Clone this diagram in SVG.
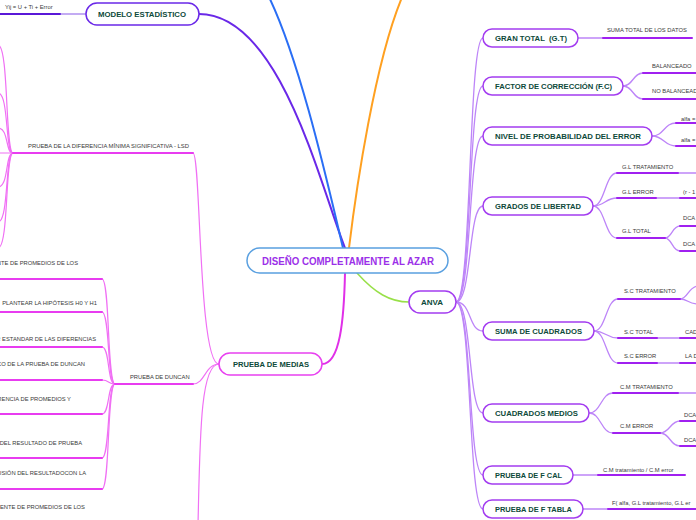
<svg xmlns="http://www.w3.org/2000/svg" width="696" height="520" viewBox="0 0 696 520">
<style>
.c{fill:none;stroke-linecap:round}
.pl{stroke:#bd85f8;stroke-width:1.3}
.pt{stroke:#a020f0;stroke-width:2}
.ml{stroke:#f070f4;stroke-width:1.2}
.mt{stroke:#e83cf0;stroke-width:2}
.n{fill:#fff;stroke:#a33cf0;stroke-width:1.5}
.nt{font-family:"Liberation Sans",Arial,sans-serif;font-weight:bold;font-size:8px;fill:#0d4a3a}
.s{font-family:"Liberation Sans",Arial,sans-serif;font-size:5.8px;fill:#3a3a3a}
.e{text-anchor:end}
</style>
<rect width="696" height="520" fill="#fff"/>
<g id="connectors">
<path class="c" d="M345,248 C320,185 280,14 199,14" stroke="#6a28e8" stroke-width="2"/>
<path class="c" d="M343,248 C328,185 300,60 268,-5" stroke="#2a6ef5" stroke-width="2"/>
<path class="c" d="M349,248 C356,190 375,60 403,-5" stroke="#ffa020" stroke-width="2"/>
<path class="c" d="M345,273 C344,320 340,364 322,364" stroke="#e030e8" stroke-width="2"/>
<path class="c" d="M357,273 C375,293 390,302 409,302" stroke="#98e048" stroke-width="1.5"/>
<path class="c" d="M86,14 L60,14" stroke="#b090f0" stroke-width="1.5"/>
<path class="c" d="M60,14 L-2,14" stroke="#5a18d8" stroke-width="2"/>
<g class="c pl">
<path d="M456,302 C472,302 468,38 483,38"/>
<path d="M456,302 C472,302 468,86 483,86"/>
<path d="M456,302 C472,302 468,136 483,136"/>
<path d="M456,302 C472,302 468,206 483,206"/>
<path d="M456,302 C472,302 468,331 483,331"/>
<path d="M456,302 C472,302 468,413 483,413"/>
<path d="M456,302 C472,302 468,475 483,475"/>
<path d="M456,302 C472,302 468,509 483,509"/>
<path d="M578,38 L603,38"/>
<path d="M623,86 C633,86 633,73 643,73"/>
<path d="M623,86 C633,86 633,99 643,99"/>
<path d="M652,136 C664,136 664,123 676,123"/>
<path d="M652,136 C664,136 664,146 676,146"/>
<path d="M593,206 C605,206 605,173 617,173"/>
<path d="M593,206 C605,206 605,198 617,198"/>
<path d="M593,206 C605,206 605,238 617,238"/>
<path d="M678,173 L698,173"/>
<path d="M656,198 L680,198"/>
<path d="M665,238 C672,238 672,226 680,226"/>
<path d="M665,238 C672,238 672,251 680,251"/>
<path d="M594,331 C606,331 606,299 618,299"/>
<path d="M594,331 C606,331 606,338 618,338"/>
<path d="M594,331 C606,331 606,363 618,363"/>
<path d="M680,299 C688,299 688,287 698,286"/>
<path d="M680,299 C688,299 688,304 698,304"/>
<path d="M657,338 L680,338"/>
<path d="M657,363 L680,363"/>
<path d="M589,413 C601,413 601,393 613,393"/>
<path d="M589,413 C601,413 601,433 613,433"/>
<path d="M678,393 L698,393"/>
<path d="M660,433 C670,433 670,421 680,421"/>
<path d="M660,433 C670,433 670,446 680,446"/>
<path d="M573,475 L598,475"/>
<path d="M583,509 L608,509"/>
</g>
<g class="c pt">
<path d="M603,38 L692,38"/>
<path d="M643,73 L698,73"/>
<path d="M643,99 L698,99"/>
<path d="M676,123 L698,123"/>
<path d="M676,146 L698,146"/>
<path d="M617,173 L678,173"/>
<path d="M617,198 L656,198"/>
<path d="M680,198 L698,198"/>
<path d="M617,238 L665,238"/>
<path d="M680,226 L698,226"/>
<path d="M680,251 L698,251"/>
<path d="M618,299 L680,299"/>
<path d="M618,338 L657,338"/>
<path d="M680,338 L698,338"/>
<path d="M618,363 L657,363"/>
<path d="M680,363 L698,363"/>
<path d="M613,393 L678,393"/>
<path d="M613,433 L660,433"/>
<path d="M680,421 L698,421"/>
<path d="M680,446 L698,446"/>
<path d="M598,475 L685,475"/>
<path d="M608,509 L698,509"/>
</g>
<g class="c ml">
<path d="M219,364 C198,364 201,153 193,153"/>
<path d="M219,364 C205,364 205,384 193,384"/>
<path d="M219,364 C200,364 200,440 198,525"/>
<path d="M13,153 C5,153 9,45 -2,45"/>
<path d="M13,153 C5,153 9,93 -2,93"/>
<path d="M13,153 C5,153 9,128 -2,128"/>
<path d="M13,153 L-2,153"/>
<path d="M13,153 C5,153 9,187 -2,187"/>
<path d="M13,153 C5,153 9,222 -2,222"/>
<path d="M13,153 C5,153 9,248 -2,248"/>
<path d="M115,384 C107,384 110,279 102,279"/>
<path d="M115,384 C107,384 110,312 102,312"/>
<path d="M115,384 C107,384 110,347 102,347"/>
<path d="M115,384 C107,384 110,380 102,380"/>
<path d="M115,384 C107,384 110,414 102,414"/>
<path d="M115,384 C107,384 110,458 102,458"/>
<path d="M115,384 C107,384 110,489 102,489"/>
</g>
<g class="c mt">
<path d="M193,153 L13,153"/>
<path d="M193,384 L115,384"/>
<path d="M102,279 L-2,279"/>
<path d="M102,312 L-2,312"/>
<path d="M102,347 L-2,347"/>
<path d="M102,380 L-2,380"/>
<path d="M102,414 L-2,414"/>
<path d="M102,458 L-2,458"/>
<path d="M102,489 L-2,489"/>
</g>
</g>
<g id="center">
<rect x="247" y="248" width="201" height="25" rx="12.5" fill="#fff" stroke="#5aa0e0" stroke-width="1.5"/>
<text x="262" y="264.5" font-family="Liberation Sans,Arial,sans-serif" font-weight="bold" font-size="10px" fill="#9b30e8" textLength="172" lengthAdjust="spacingAndGlyphs">DISEÑO COMPLETAMENTE AL AZAR</text>
</g>
<g id="modelo">
<rect x="86" y="3" width="113" height="22" rx="11" fill="#fff" stroke="#6a28e8" stroke-width="1.5"/>
<text class="nt" x="98" y="17" textLength="88" lengthAdjust="spacingAndGlyphs">MODELO ESTADÍSTICO</text>
<text class="s" x="5" y="8.5">Yij = U + Ti + Error</text>
</g>
<g id="prueba-medias">
<rect x="219" y="353" width="103" height="22" rx="11" fill="#fff" stroke="#e840f0" stroke-width="1.5"/>
<text class="nt" x="233" y="367" textLength="76" lengthAdjust="spacingAndGlyphs">PRUEBA DE MEDIAS</text>
</g>
<g id="lsd">
<text class="s" x="28" y="148" textLength="161" lengthAdjust="spacingAndGlyphs">PRUEBA DE LA DIFERENCIA MÍNIMA SIGNIFICATIVA - LSD</text>
</g>
<g id="duncan">
<text class="s" x="130" y="379">PRUEBA DE DUNCAN</text>
</g>
<g id="duncan-items">
<text class="s e" x="78" y="265">NTE DE PROMEDIOS DE LOS</text>
<text class="s e" x="97" y="305">PLANTEAR LA HIPÓTESIS H0 Y H1</text>
<text class="s e" x="96" y="341">R ESTANDAR DE LAS DIFERENCIAS</text>
<text class="s e" x="85" y="366">CO DE LA PRUEBA DE DUNCAN</text>
<text class="s e" x="71" y="401">RENCIA DE PROMEDIOS Y</text>
<text class="s e" x="82" y="445">DEL RESULTADO DE PRUEBA</text>
<text class="s e" x="86" y="475">USIÓN DEL RESULTADOCON LA</text>
<text class="s e" x="85" y="509">DENTE DE PROMEDIOS DE LOS</text>
</g>
<g id="anva">
<rect x="409" y="291" width="47" height="22" rx="11" class="n"/>
<text class="nt" x="432" y="305" text-anchor="middle">ANVA</text>
</g>
<g id="gran-total">
<rect x="483" y="29" width="95" height="18" rx="9" class="n"/>
<text class="nt" x="495" y="41" textLength="72" lengthAdjust="spacingAndGlyphs" xml:space="preserve">GRAN TOTAL  (G.T)</text>
<text class="s" x="607" y="31.5">SUMA TOTAL DE LOS DATOS</text>
</g>
<g id="factor">
<rect x="483" y="77" width="140" height="18" rx="9" class="n"/>
<text class="nt" x="495" y="89" textLength="117" lengthAdjust="spacingAndGlyphs">FACTOR DE CORRECCIÓN (F.C)</text>
<text class="s" x="652" y="68">BALANCEADO</text>
<text class="s" x="652" y="92.5">NO BALANCEAD</text>
</g>
<g id="nivel">
<rect x="483" y="127" width="169" height="18" rx="9" class="n"/>
<text class="nt" x="495" y="139" textLength="146" lengthAdjust="spacingAndGlyphs">NIVEL DE PROBABILIDAD DEL ERROR</text>
<text class="s" x="681" y="121">alfa =</text>
<text class="s" x="681" y="141.5">alfa =</text>
</g>
<g id="grados">
<rect x="483" y="197" width="110" height="18" rx="9" class="n"/>
<text class="nt" x="495" y="209" textLength="86" lengthAdjust="spacingAndGlyphs">GRADOS DE LIBERTAD</text>
<text class="s" x="622" y="168.5">G.L TRATAMIENTO</text>
<text class="s" x="622" y="193.5">G.L ERROR</text>
<text class="s" x="683" y="193.5">(r - 1</text>
<text class="s" x="622" y="233">G.L TOTAL</text>
<text class="s" x="683" y="220">DCA</text>
<text class="s" x="683" y="246">DCA</text>
</g>
<g id="suma">
<rect x="483" y="322" width="111" height="18" rx="9" class="n"/>
<text class="nt" x="495" y="334" textLength="87" lengthAdjust="spacingAndGlyphs">SUMA DE CUADRADOS</text>
<text class="s" x="624" y="293">S.C TRATAMIENTO</text>
<text class="s" x="624" y="333.5">S.C TOTAL</text>
<text class="s" x="685" y="333.5">CAD</text>
<text class="s" x="624" y="358">S.C ERROR</text>
<text class="s" x="685" y="358">LA D</text>
</g>
<g id="cuadrados-medios">
<rect x="483" y="404" width="106" height="18" rx="9" class="n"/>
<text class="nt" x="495" y="416" textLength="83" lengthAdjust="spacingAndGlyphs">CUADRADOS MEDIOS</text>
<text class="s" x="620" y="388.5">C.M TRATAMIENTO</text>
<text class="s" x="620" y="428">C.M ERROR</text>
<text class="s" x="684" y="416.5">DCA</text>
<text class="s" x="684" y="441.5">DCA</text>
</g>
<g id="f-cal">
<rect x="483" y="466" width="90" height="18" rx="9" class="n"/>
<text class="nt" x="495" y="478" textLength="67" lengthAdjust="spacingAndGlyphs">PRUEBA DE F CAL</text>
<text class="s" x="603" y="471.5">C.M tratamiento / C.M error</text>
</g>
<g id="f-tabla">
<rect x="483" y="500" width="100" height="18" rx="9" class="n"/>
<text class="nt" x="495" y="512" textLength="77" lengthAdjust="spacingAndGlyphs">PRUEBA DE F TABLA</text>
<text class="s" x="612" y="504.5">F( alfa, G.L tratamiento, G.L er</text>
</g>
</svg>
